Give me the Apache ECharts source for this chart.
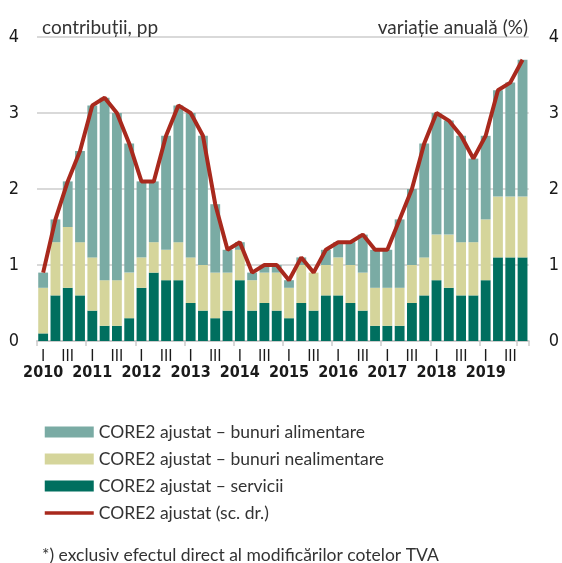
<!DOCTYPE html>
<html>
<head>
<meta charset="utf-8">
<script src="https://cdn.jsdelivr.net/npm/echarts@6/dist/echarts.min.js"></script>
<style>
html,body{margin:0;padding:0;background:#fff;}
#c{width:562px;height:563px;}
</style>
</head>
<body>
<div id="c"></div>
<script>
const years = ['2010','2011','2012','2013','2014','2015','2016','2017','2018','2019'];
const quarters = ['I','II','III','IV'];
const yTicks = [0, 1, 2, 3, 4];

const services = [0.1,0.6,0.7,0.6, 0.4,0.2,0.2,0.3, 0.7,0.9,0.8,0.8, 0.5,0.4,0.3,0.4, 0.8,0.4,0.5,0.4,
                  0.3,0.5,0.4,0.6, 0.6,0.5,0.4,0.2, 0.2,0.2,0.5,0.6, 0.8,0.7,0.6,0.6, 0.8,1.1,1.1,1.1];
const nonFood  = [0.6,0.7,0.8,0.7, 0.7,0.6,0.6,0.6, 0.4,0.4,0.4,0.5, 0.6,0.6,0.6,0.5, 0.4,0.4,0.4,0.5,
                  0.4,0.5,0.5,0.4, 0.5,0.5,0.5,0.5, 0.5,0.5,0.5,0.5, 0.6,0.7,0.7,0.7, 0.8,0.8,0.8,0.8];
const food     = [0.2,0.3,0.6,1.2, 2.0,2.4,2.2,1.7, 1.0,0.8,1.5,1.8, 1.9,1.7,0.9,0.3, 0.1,0.1,0.1,0.1,
                  0.1,0.1,0.0,0.2, 0.2,0.3,0.5,0.5, 0.5,0.9,1.0,1.5, 1.6,1.5,1.4,1.1, 1.1,1.4,1.5,1.8];
const core2    = [0.9,1.6,2.1,2.5, 3.1,3.2,3.0,2.6, 2.1,2.1,2.7,3.1, 3.0,2.7,1.8,1.2, 1.3,0.9,1.0,1.0,
                  0.8,1.1,0.9,1.2, 1.3,1.3,1.4,1.2, 1.2,1.6,2.0,2.6, 3.0,2.9,2.7,2.4, 2.7,3.3,3.4,3.7];

const seriesNames = ['CORE2 ajustat – bunuri alimentare','CORE2 ajustat – bunuri nealimentare','CORE2 ajustat – servicii','CORE2 ajustat (sc. dr.)'];
const titleLeft = 'contribuții, pp';
const titleRight = 'variație anuală (%)';
const footnote = '*) exclusiv efectul direct al modificărilor cotelor TVA';

const categories = [];
years.forEach(y => quarters.forEach(q => categories.push(y + ' ' + q)));

const C_FOOD = '#7aaba4', C_NONFOOD = '#d5d59b', C_SERV = '#006f5f', C_LINE = '#a8291d';
const axisFont = '"Liberation Sans Narrow","DejaVu Sans Condensed",sans-serif';
const textFont = 'Lato,"Noto Sans",sans-serif';

const chart = echarts.init(document.getElementById('c'), null, {renderer:'canvas'});
chart.setOption({
  animation: false,
  title: [
    {text: titleLeft, left: 37, top: 13, textStyle:{fontFamily: textFont, fontSize: 19, fontWeight:'normal', color:'#333'}},
    {text: titleRight, right: 29, top: 13, textStyle:{fontFamily: textFont, fontSize: 19, fontWeight:'normal', color:'#333'}},
    {text: footnote, left: 37, top: 541, textStyle:{fontFamily: textFont, fontSize: 17.5, fontWeight:'normal', color:'#333'}}
  ],
  grid: {left: 37, right: 33, top: 37, bottom: 222, containLabel: false},
  legend: {
    orient: 'vertical', left: 38, top: 418,
    itemWidth: 49, itemHeight: 11, itemGap: 9,
    data: [
      {name: seriesNames[0], icon: 'rect'},
      {name: seriesNames[1], icon: 'rect'},
      {name: seriesNames[2], icon: 'rect'},
      {name: seriesNames[3], itemStyle: {opacity: 0}, lineStyle: {width: 3.5}}
    ],
    textStyle: {fontFamily: textFont, fontSize: 17.5, color: '#333', lineHeight: 18}
  },
  xAxis: {
    type: 'category', data: categories, boundaryGap: true,
    axisLine: {show: true, lineStyle: {color: '#cccccc', width: 2}},
    axisTick: {show: true, interval: 3, length: 5, lineStyle: {color: '#cccccc', width: 1.5}},
    axisLabel: {
      interval: 0, margin: 8,
      formatter: function (v, i) {
        const q = i % 4;
        const y = years[Math.floor(i / 4)];
        if (q === 0) return '{q|' + quarters[0] + '}\n{y|' + y + '}';
        if (q === 2) return '{q|' + quarters[2] + '}\n{y| }';
        return '';
      },
      rich: {
        q: {fontFamily: axisFont, fontSize: 16, color: '#1a1a1a', lineHeight: 15},
        y: {fontFamily: axisFont, fontSize: 16, fontWeight: 'bold', color: '#1a1a1a', lineHeight: 17}
      }
    }
  },
  yAxis: [
    {type: 'value', min: yTicks[0], max: yTicks[yTicks.length-1], interval: 1,
     axisLine: {show: false}, axisTick: {show: false},
     axisLabel: {margin: 18, fontFamily: axisFont, fontSize: 18, color: '#1a1a1a'},
     splitLine: {show: true, lineStyle: {color: '#d9d9d9', width: 2}}},
    {type: 'value', min: yTicks[0], max: yTicks[yTicks.length-1], interval: 1, position: 'right',
     axisLine: {show: false}, axisTick: {show: false},
     axisLabel: {margin: 20, fontFamily: axisFont, fontSize: 18, color: '#1a1a1a'},
     splitLine: {show: false}}
  ],
  series: [
    {name: seriesNames[2], type: 'bar', stack: 'c', data: services, itemStyle: {color: C_SERV}, barCategoryGap: '20%'},
    {name: seriesNames[1], type: 'bar', stack: 'c', data: nonFood, itemStyle: {color: C_NONFOOD}},
    {name: seriesNames[0], type: 'bar', stack: 'c', data: food, itemStyle: {color: C_FOOD}},
    {name: seriesNames[3], type: 'line', yAxisIndex: 1, data: core2, symbol: 'none',
     lineStyle: {color: C_LINE, width: 4}, itemStyle: {color: C_LINE}, z: 5}
  ]
});
</script>
</body>
</html>
